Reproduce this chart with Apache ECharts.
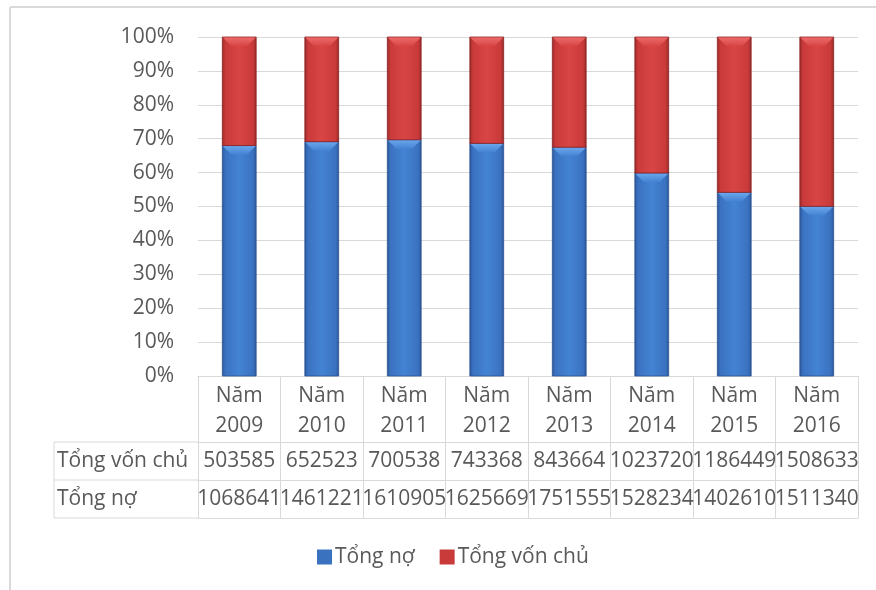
<!DOCTYPE html>
<html>
<head>
<meta charset="utf-8">
<script src="https://cdn.jsdelivr.net/npm/echarts@6/dist/echarts.min.js"></script>
<style>
  html, body { margin: 0; padding: 0; background: #fff; }
  #chart { width: 876px; height: 590px; }
</style>
</head>
<body>
<div id="chart"></div>
<script>
// Balance sheet structure by year: total debt vs. total equity
const years = ['2009', '2010', '2011', '2012', '2013', '2014', '2015', '2016'];
const categories = years.map(y => 'Năm\n' + y);
const debt = [1068641, 1461221, 1610905, 1625669, 1751555, 1528234, 1402610, 1511340];
const equity = [503585, 652523, 700538, 743368, 843664, 1023720, 1186449, 1508633];
const seriesNames = ['Tổng nợ', 'Tổng vốn chủ'];
const tableRows = ['Tổng vốn chủ', 'Tổng nợ'];

// 100% stacked shares
const debtPct = debt.map((d, i) => d / (d + equity[i]) * 100);
const equityPct = equity.map((e, i) => e / (debt[i] + e) * 100);

// stacked segments: [category, lower bound, upper bound]
const debtSeg = debtPct.map((p, i) => [i, 0, p]);
const equitySeg = equityPct.map((p, i) => [i, debtPct[i], debtPct[i] + p]);

const FONT = '"Open Sans", "Noto Sans", sans-serif';
const TEXT = '#595959';
const LINE = '#d9d9d9';
const FS = 21;

const palettes = {
  blue: { edge: '#2b5597', mid: '#3a72c0', center: '#4483d3', cap: '#6aa6ec', border: '#2a5290' },
  red:  { edge: '#962828', mid: '#c93a3a', center: '#d94545', cap: '#ec6a6a', border: '#8a2222' }
};

function sideGradient(p) {
  return new echarts.graphic.LinearGradient(0, 0, 1, 0, [
    { offset: 0, color: p.edge },
    { offset: 0.1, color: p.mid },
    { offset: 0.5, color: p.center },
    { offset: 0.9, color: p.mid },
    { offset: 1, color: p.edge }
  ]);
}

// Bevelled column segment drawn from the axis scales
function bevelBar(p) {
  return function (params, api) {
    const idx = api.value(0);
    const lo = api.coord([idx, api.value(1)]);
    const hi = api.coord([idx, api.value(2)]);
    const bw = api.size([1, 0])[0] * 0.41;
    const x = lo[0] - bw / 2;
    const y = hi[1];
    const h = lo[1] - hi[1];
    const b = Math.min(9, h / 2);
    return {
      type: 'group',
      children: [
        { type: 'rect', shape: { x: x, y: y, width: bw, height: h },
          style: { fill: sideGradient(p), stroke: p.border, lineWidth: 0.8 } },
        { type: 'polygon',
          shape: { points: [[x + 0.5, y + 0.5], [x + bw - 0.5, y + 0.5], [x + bw - b, y + b], [x + b, y + b]] },
          style: { fill: new echarts.graphic.LinearGradient(0, 0, 0, 1, [
            { offset: 0, color: p.cap }, { offset: 1, color: p.center }]) } }
      ]
    };
  };
}

const chart = echarts.init(document.getElementById('chart'), null, { renderer: 'canvas' });

const grid = { left: 198, right: 18, top: 37, bottom: 214 };
const ROW_H = [66, 38, 38]; // header row, then two data rows

const baseX = {
  type: 'category',
  data: categories,
  gridIndex: 0,
  position: 'bottom',
  boundaryGap: true,
  axisLine: { show: true, lineStyle: { color: LINE, width: 1 } },
  axisTick: { show: false },
  splitLine: { show: false }
};

const tableTop = 590 - grid.bottom;
const tableLeft = 54;
const r1 = tableTop + ROW_H[0];
const r2 = r1 + ROW_H[1];
const r3 = r2 + ROW_H[2];

chart.setOption({
  animation: false,
  textStyle: { fontFamily: FONT, color: TEXT },
  grid: grid,
  legend: {
    data: seriesNames,
    left: 317,
    top: 545,
    padding: 0,
    itemWidth: 15,
    itemHeight: 15,
    itemGap: 25,
    icon: 'rect',
    textStyle: { fontFamily: FONT, fontSize: FS, color: TEXT, lineHeight: 24, padding: [0, 0, 0, -2] }
  },
  xAxis: [
    Object.assign({}, baseX, {
      axisTick: { show: true, alignWithLabel: false, interval: 0, inside: false,
                  length: ROW_H[0] + ROW_H[1] + ROW_H[2], lineStyle: { color: LINE } },
      axisLabel: { interval: 0, margin: 5, fontFamily: FONT, fontSize: FS, color: TEXT,
                   lineHeight: 30, align: 'center' }
    }),
    Object.assign({}, baseX, {
      offset: ROW_H[0],
      axisLabel: { interval: 0, margin: 0, fontFamily: FONT, fontSize: FS, color: TEXT,
                   lineHeight: ROW_H[1], formatter: (v, i) => String(equity[i]) }
    }),
    Object.assign({}, baseX, {
      offset: ROW_H[0] + ROW_H[1],
      axisLabel: { interval: 0, margin: 0, fontFamily: FONT, fontSize: FS, color: TEXT,
                   lineHeight: ROW_H[2], formatter: (v, i) => String(debt[i]) }
    }),
    Object.assign({}, baseX, {
      offset: ROW_H[0] + ROW_H[1] + ROW_H[2],
      axisLabel: { show: false }
    })
  ],
  yAxis: {
    type: 'value',
    min: 0,
    max: 100,
    interval: 10,
    axisLine: { show: false },
    axisTick: { show: false },
    axisLabel: { formatter: '{value}%', margin: 24, fontFamily: FONT, fontSize: FS, color: TEXT },
    splitLine: { lineStyle: { color: LINE, width: 1 } }
  },
  series: [
    {
      name: seriesNames[0],
      type: 'custom',
      xAxisIndex: 0,
      renderItem: bevelBar(palettes.blue),
      encode: { x: 0, y: [1, 2] },
      itemStyle: { color: palettes.blue.mid },
      data: debtSeg,
      z: 3
    },
    {
      name: seriesNames[1],
      type: 'custom',
      xAxisIndex: 0,
      renderItem: bevelBar(palettes.red),
      encode: { x: 0, y: [1, 2] },
      itemStyle: { color: palettes.red.mid },
      data: equitySeg,
      z: 3
    }
  ],
  graphic: [
    // chart frame
    { type: 'line', shape: { x1: 10, y1: 7, x2: 876, y2: 7 }, style: { stroke: LINE, lineWidth: 2 }, silent: true },
    { type: 'line', shape: { x1: 10, y1: 7, x2: 10, y2: 590 }, style: { stroke: LINE, lineWidth: 2 }, silent: true },
    // row-header column of the data table
    { type: 'line', shape: { x1: tableLeft, y1: r1, x2: grid.left, y2: r1 }, style: { stroke: LINE, lineWidth: 1 }, silent: true },
    { type: 'line', shape: { x1: tableLeft, y1: r2, x2: grid.left, y2: r2 }, style: { stroke: LINE, lineWidth: 1 }, silent: true },
    { type: 'line', shape: { x1: tableLeft, y1: r3, x2: grid.left, y2: r3 }, style: { stroke: LINE, lineWidth: 1 }, silent: true },
    { type: 'line', shape: { x1: tableLeft, y1: r1, x2: tableLeft, y2: r3 }, style: { stroke: LINE, lineWidth: 1 }, silent: true },
    { type: 'text', left: tableLeft + 3, top: r1 + (ROW_H[1] - 28) / 2,
      style: { text: tableRows[0], fontFamily: FONT, fontSize: FS, fill: TEXT, lineHeight: 28 }, silent: true },
    { type: 'text', left: tableLeft + 3, top: r2 + (ROW_H[2] - 28) / 2,
      style: { text: tableRows[1], fontFamily: FONT, fontSize: FS, fill: TEXT, lineHeight: 28 }, silent: true }
  ]
});
</script>
</body>
</html>
